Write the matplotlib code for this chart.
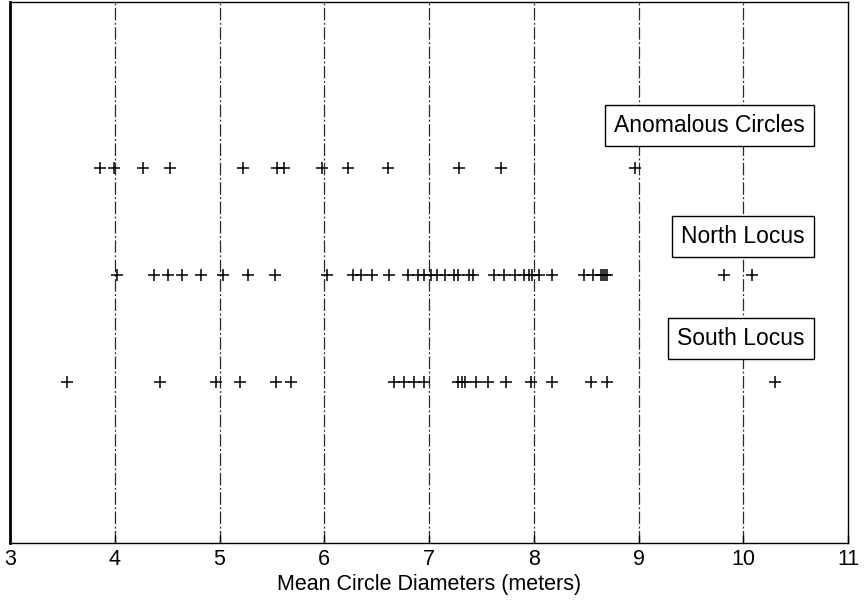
import matplotlib
matplotlib.use('Agg')
from matplotlib import pyplot as plt

plt.rcParams['font.family'] = ['Liberation Sans', 'DejaVu Sans']

# mean circle diameters (meters)
anomalous = [3.86, 3.99, 4.27, 4.53, 5.22, 5.55, 5.62, 5.98, 6.23, 6.61,
             7.29, 7.69, 8.97]
north = [4.02, 4.37, 4.51, 4.64, 4.82, 5.03, 5.27, 5.53, 6.03, 6.27, 6.35,
         6.46, 6.62, 6.80, 6.89, 6.95, 7.02, 7.08, 7.15, 7.24, 7.28, 7.38,
         7.42, 7.62, 7.72, 7.82, 7.91, 7.95, 7.98, 8.05, 8.17, 8.48, 8.57,
         8.64, 8.66, 8.68, 8.70, 9.82, 10.08]
south = [3.54, 4.43, 4.97, 5.20, 5.54, 5.68, 6.67, 6.76, 6.86, 6.95, 7.28,
         7.31, 7.34, 7.45, 7.56, 7.73, 7.97, 8.17, 8.55, 8.70, 10.30]

groups = ['Anomalous Circles', 'North Locus', 'South Locus']
rows = [3, 2, 1]
label_offsets = [0.40, 0.36, 0.41]
values = [anomalous, north, south]
x_ticks = [3, 4, 5, 6, 7, 8, 9, 10, 11]

fig = plt.figure(figsize=(8.65, 6.05), dpi=100)
ax = fig.add_axes([0.0116, 0.1025, 0.9688, 0.8942])

for gx in x_ticks[1:-1]:
    ax.axvline(gx, color='#2a2a2a', lw=0.9, ls=(0, (10, 2, 1.5, 2)), zorder=1)

for name, row, off, vals in zip(groups, rows, label_offsets, values):
    ax.plot(vals, [row] * len(vals), ls='none', marker='+', ms=9, mew=1.1,
            color='black', zorder=3)
    ax.text(10.585, row + off, name, ha='right', va='center', fontsize=16.5,
            zorder=4,
            bbox=dict(boxstyle='square,pad=0.4', fc='white', ec='black', lw=1))

ax.set_xlim(3, 11)
ax.set_ylim(-0.5, 4.55)
ax.set_xticks(x_ticks)
ax.set_xticklabels([str(t) for t in x_ticks], fontsize=15.5)
ax.set_yticks([])
ax.tick_params(axis='x', direction='in', length=6, width=1, pad=4)
for s in ax.spines.values():
    s.set_linewidth(1)
ax.spines['left'].set_linewidth(2)
ax.set_xlabel('Mean Circle Diameters (meters)', fontsize=15.5, labelpad=3)

fig.savefig('out.png', dpi=100)
